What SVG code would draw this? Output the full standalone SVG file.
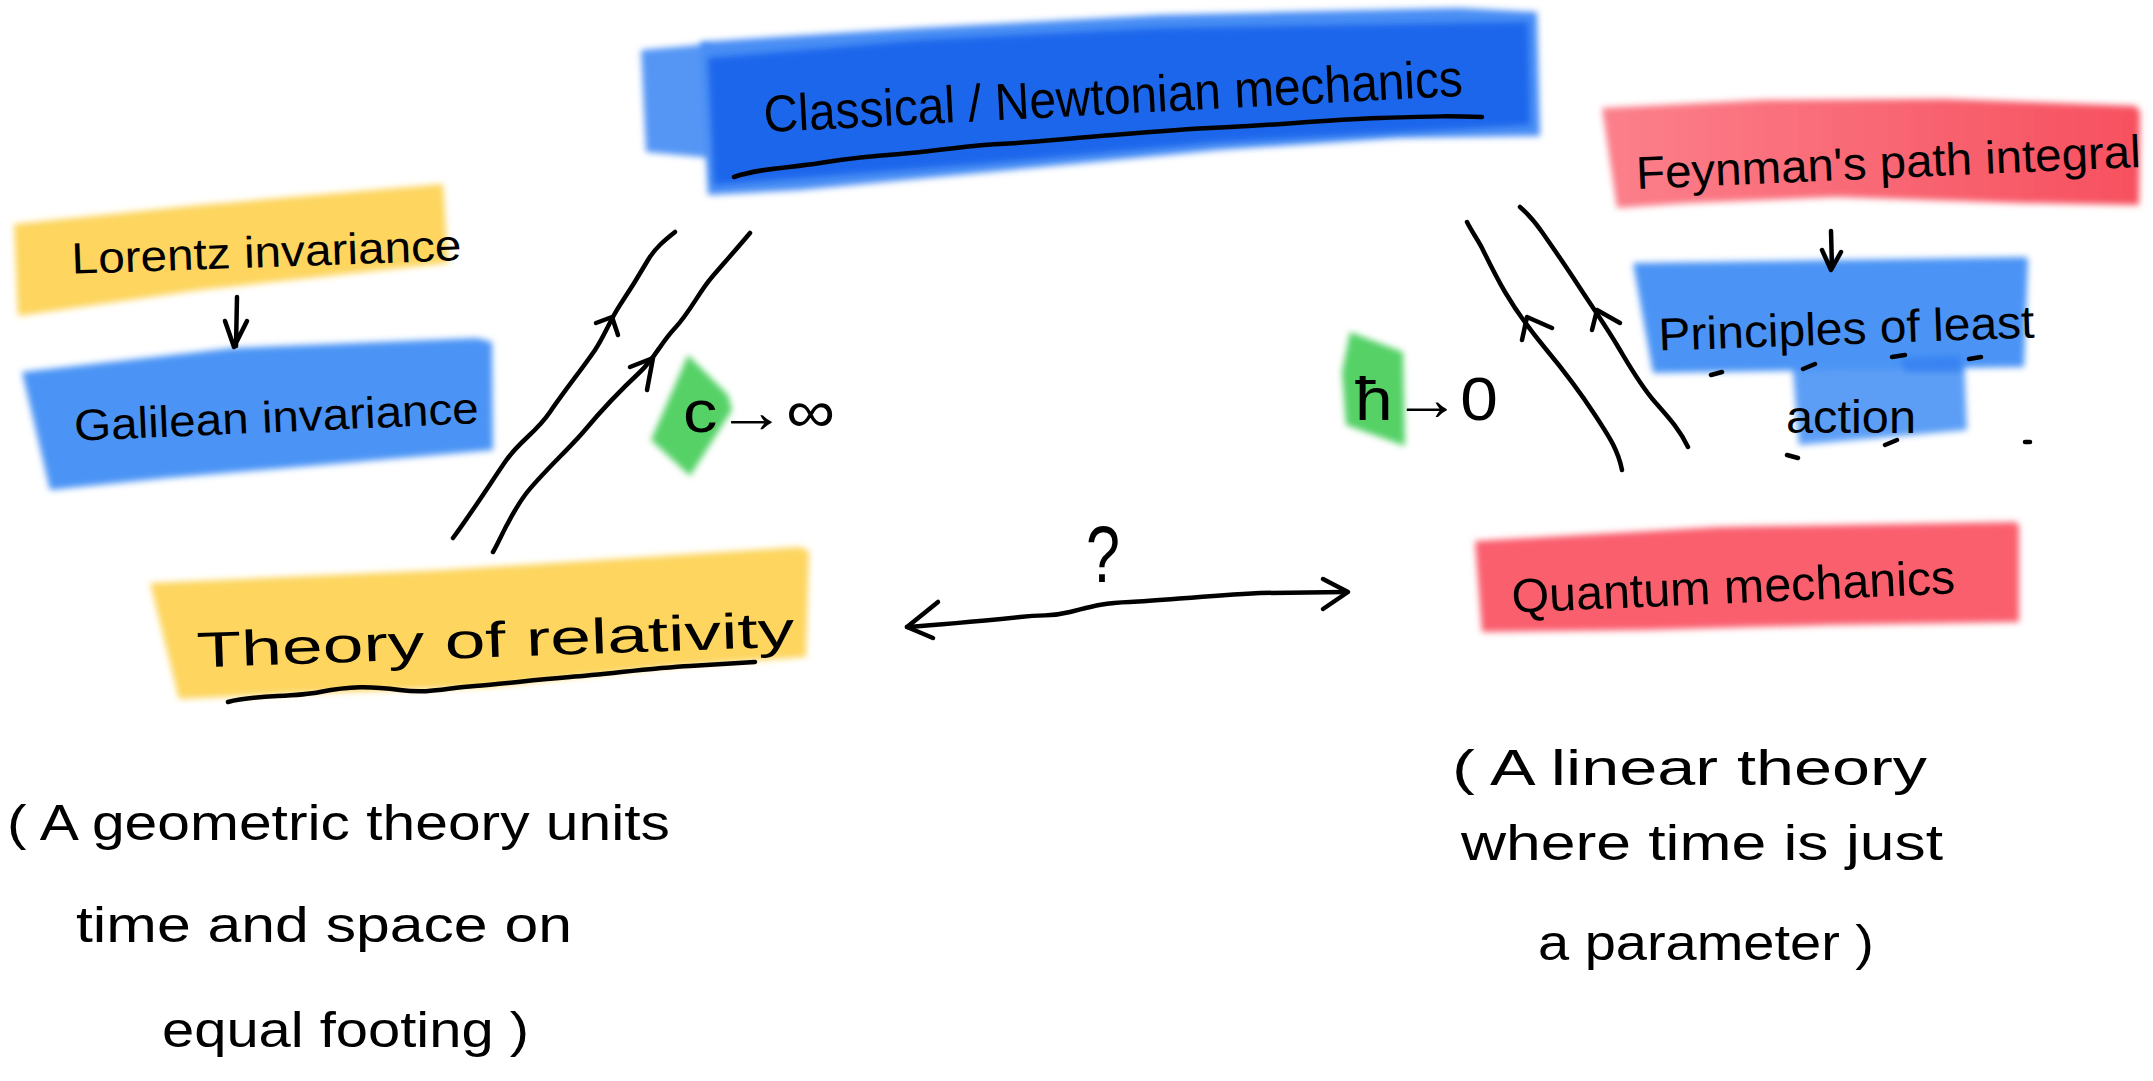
<svg xmlns="http://www.w3.org/2000/svg" width="2153" height="1081" viewBox="0 0 2153 1081">
<defs>
<filter id="soft" x="-10%" y="-20%" width="120%" height="140%"><feGaussianBlur stdDeviation="3"/></filter>
<linearGradient id="redA" x1="0" y1="0" x2="1" y2="0"><stop offset="0" stop-color="#fb808b"/><stop offset="1" stop-color="#f7505f"/></linearGradient>
<style>
.ink{fill:none;stroke:#000;stroke-width:4.5;stroke-linecap:round;stroke-linejoin:round}
.hand{font-family:"Liberation Sans","DejaVu Sans",sans-serif;fill:#000}
.band{filter:url(#soft)}
.yellow{fill:#fdd55e}
.blueL{fill:#4c94f5}
.red{fill:#fa5f6e}
.green{fill:#55d166}
</style>
</defs>
<rect width="2153" height="1081" fill="#fff"/>

<g id="classical">
<polygon class="band" fill="#5596f5" points="641,50 710,44 712,158 646,152"/>
<polygon class="band" fill="#4a8ef4" points="700,42 919,28 1159,15 1458,8 1537,12 1540,136 1398,138 1219,150 979,173 800,190 708,195"/>
<polygon class="band" fill="#1d66ec" points="708,58 919,40 1159,28 1528,22 1530,125 1219,142 979,164 714,185"/>
<text class="hand" x="1114" y="114" font-size="52" text-anchor="middle" textLength="700" lengthAdjust="spacingAndGlyphs" transform="rotate(-3 1114 114)">Classical / Newtonian mechanics</text>
<path class="ink" d="M734,177 C760,168 790,168 820,163 S870,156 900,154 S960,146 1000,144 S1060,139 1100,136 S1180,129 1230,127 S1320,120 1380,118 S1450,116 1482,117"/>
</g>

<g id="lorentz">
<polygon class="band yellow" points="14,224 200,205 443,184 448,263 200,290 18,316"/>
<text class="hand" x="267" y="267" font-size="44" text-anchor="middle" textLength="390" lengthAdjust="spacingAndGlyphs" transform="rotate(-2 267 267)">Lorentz invariance</text>
</g>

<g id="galilean">
<polygon class="band blueL" points="22,372 233,348 477,338 492,342 493,450 333,464 167,478 50,490"/>
<text class="hand" x="277" y="432" font-size="44" text-anchor="middle" textLength="405" lengthAdjust="spacingAndGlyphs" transform="rotate(-2.5 277 432)">Galilean invariance</text>
</g>

<g id="feynman">
<polygon class="band" fill="url(#redA)" points="1602,108 1763,100 1945,99 2136,106 2140,112 2139,205 2018,203 1836,197 1690,203 1617,208"/>
<text class="hand" x="1889" y="178" font-size="46" text-anchor="middle" textLength="505" lengthAdjust="spacingAndGlyphs" transform="rotate(-2.5 1889 178)">Feynman's path integral</text>
</g>

<g id="least-action">
<polygon class="band blueL" points="1633,263 1836,260 2026,257 2028,260 2024,367 1653,373"/>
<polygon class="band blueL" opacity="0.9" points="1792,360 1964,357 1967,430 1799,445"/>
<polygon class="band" fill="#2a78f0" opacity="0.6" points="1900,358 1960,356 1962,372 1905,372"/>
<text class="hand" x="1847" y="344" font-size="46" text-anchor="middle" textLength="376" lengthAdjust="spacingAndGlyphs" transform="rotate(-2 1847 344)">Principles of least</text>
<text class="hand" x="1851" y="433" font-size="46" text-anchor="middle" textLength="130" lengthAdjust="spacingAndGlyphs">action</text>
<path class="ink" stroke-width="3" d="M1711,375 L1722,372 M1803,369 L1815,364 M1892,357 L1905,355 M1969,359 L1981,357 M1787,455 L1798,458 M1885,445 L1897,440 M2025,442 L2030,442"/>
</g>

<g id="relativity">
<polygon class="band yellow" points="150,583 443,570 800,547 809,551 806,657 666,667 487,687 309,693 179,699"/>
<text class="hand" x="496" y="657" font-size="50" text-anchor="middle" textLength="598" lengthAdjust="spacingAndGlyphs" transform="rotate(-2 496 657)">Theory of relativity</text>
<path class="ink" d="M228,702 C255,694 290,698 320,692 S370,686 400,690 S445,688 475,686 S530,680 570,677 S650,668 690,666 L755,662"/>
</g>

<g id="quantum">
<polygon class="band red" points="1475,541 1719,527 2016,522 2019,526 2019,622 1830,625 1645,630 1482,632"/>
<text class="hand" x="1734" y="603" font-size="48" text-anchor="middle" textLength="444" lengthAdjust="spacingAndGlyphs" transform="rotate(-2.5 1734 603)">Quantum mechanics</text>
</g>

<g id="c-limit">
<polygon class="band green" points="688,355 728,395 732,410 690,476 651,440"/>
<text class="hand" x="683" y="432" font-size="60" textLength="152" lengthAdjust="spacingAndGlyphs">c→∞</text>
</g>

<g id="hbar-limit">
<polygon class="band green" points="1350,332 1403,352 1405,446 1346,425 1342,372"/>
<text class="hand" x="1355" y="420" font-size="62" textLength="143" lengthAdjust="spacingAndGlyphs">ħ→0</text>
</g>

<g id="note-relativity">
<text class="hand" x="7" y="840" font-size="50" textLength="663" lengthAdjust="spacingAndGlyphs">( A geometric theory units</text>
<text class="hand" x="76" y="942" font-size="50" textLength="496" lengthAdjust="spacingAndGlyphs">time and space on</text>
<text class="hand" x="162" y="1047" font-size="50" textLength="367" lengthAdjust="spacingAndGlyphs">equal footing )</text>
</g>

<g id="note-quantum">
<text class="hand" x="1452" y="785" font-size="50" textLength="475" lengthAdjust="spacingAndGlyphs">( A linear theory</text>
<text class="hand" x="1461" y="860" font-size="50" textLength="482" lengthAdjust="spacingAndGlyphs">where time is just</text>
<text class="hand" x="1538" y="960" font-size="50" textLength="336" lengthAdjust="spacingAndGlyphs">a parameter )</text>
</g>

<g id="connectors">
<path class="ink" d="M237,297 L236,346 M225,321 L234,347 L247,321"/>
<path class="ink" d="M1831,231 L1832,268 M1822,250 L1831,270 L1841,252"/>
<path class="ink" d="M675,232 C665,240 655,248 648,260 S630,290 620,305 S605,335 595,350 S565,390 550,412 S520,440 505,462 S470,515 453,538"/>
<path class="ink" d="M596,323 L612,317 L618,335"/>
<path class="ink" d="M750,233 C740,245 725,262 712,277 S690,312 675,328 S655,358 640,372 S600,412 585,430 S540,475 525,495 S500,540 493,552"/>
<path class="ink" d="M630,367 L653,358 L647,390"/>
<path class="ink" d="M1467,222 C1472,232 1478,240 1482,248 S1495,275 1505,292 S1530,330 1545,348 S1580,392 1595,415 S1618,450 1622,470"/>
<path class="ink" d="M1522,340 L1527,317 L1552,328"/>
<path class="ink" d="M1520,207 C1528,214 1535,222 1542,232 S1565,265 1578,285 S1605,325 1617,345 S1640,385 1655,402 S1680,430 1688,447"/>
<path class="ink" d="M1592,330 L1597,310 L1620,323"/>
<path class="ink" d="M907,627 C950,624 990,620 1020,617 S1050,617 1070,612 S1100,603 1130,602 S1200,596 1260,593 L1346,592"/>
<path class="ink" d="M938,602 L907,627 L933,638"/>
<path class="ink" d="M1323,579 L1348,592 L1323,609"/>
<text class="hand" x="1103" y="582" font-size="80" text-anchor="middle" textLength="34" lengthAdjust="spacingAndGlyphs">?</text>
</g>
</svg>
